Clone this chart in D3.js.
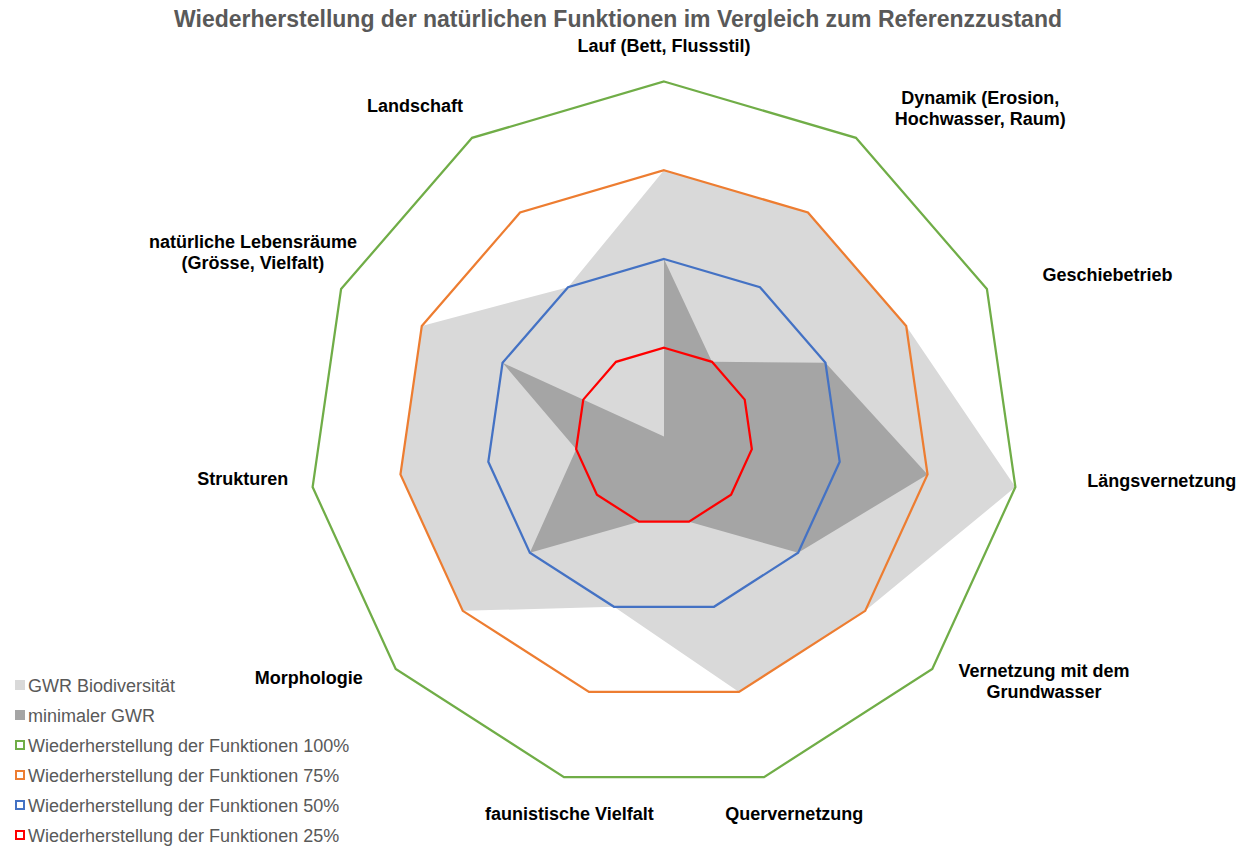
<!DOCTYPE html>
<html>
<head>
<meta charset="utf-8">
<script src="https://cdn.jsdelivr.net/npm/d3@7"></script>
<style>
  body { margin: 0; background: #fff; }
  svg { display: block; font-family: "Liberation Sans", Arial, sans-serif; }
</style>
</head>
<body>
<svg id="chart"></svg>
<script>
// axis labels (clockwise from top)
const axes = [
  'Lauf (Bett, Flussstil)',
  'Dynamik (Erosion,\nHochwasser, Raum)',
  'Geschiebetrieb',
  'Längsvernetzung',
  'Vernetzung mit dem\nGrundwasser',
  'Quervernetzung',
  'faunistische Vielfalt',
  'Morphologie',
  'Strukturen',
  'natürliche Lebensräume\n(Grösse, Vielfalt)',
  'Landschaft'
];

// series values, in % of reference state
const gwrBiodiversitaet = [75, 75, 75, 100, 75, 75, 50, 75, 75, 75, 50];
const minimalerGwr      = [50, 25, 50, 75, 50, 25, 25, 50, 25, 50, 0];
const funktionen100 = [100, 100, 100, 100, 100, 100, 100, 100, 100, 100, 100];
const funktionen75  = [75, 75, 75, 75, 75, 75, 75, 75, 75, 75, 75];
const funktionen50  = [50, 50, 50, 50, 50, 50, 50, 50, 50, 50, 50];
const funktionen25  = [25, 25, 25, 25, 25, 25, 25, 25, 25, 25, 25];

const seriesNames = [
  'GWR Biodiversität',
  'minimaler GWR',
  'Wiederherstellung der Funktionen 100%',
  'Wiederherstellung der Funktionen 75%',
  'Wiederherstellung der Funktionen 50%',
  'Wiederherstellung der Funktionen 25%'
];

const width = 1252, height = 847;
const cx = 664, cy = 436.5, R = 355;

const svg = d3.select('#chart').attr('width', width).attr('height', height);

// title
svg.append('text')
  .attr('x', 618)
  .attr('y', 27)
  .attr('text-anchor', 'middle')
  .style('font-size', '23px')
  .style('font-weight', 'bold')
  .style('fill', '#595959')
  .text('Wiederherstellung der natürlichen Funktionen im Vergleich zum Referenzzustand');

const r = d3.scaleLinear().domain([0, 100]).range([0, R]);
const angle = d3.scaleLinear().domain([0, axes.length]).range([0, 2 * Math.PI]);

const g = svg.append('g').attr('transform', `translate(${cx},${cy})`);

const radial = d3.lineRadial()
  .angle((d, i) => angle(i))
  .radius(d => r(d))
  .curve(d3.curveLinearClosed);

// filled areas
g.append('path').attr('d', radial(gwrBiodiversitaet)).attr('fill', '#d9d9d9');
g.append('path').attr('d', radial(minimalerGwr)).attr('fill', '#a5a5a5');

// rings
const rings = [
  { values: funktionen100, color: '#70ad47' },
  { values: funktionen75, color: '#ed7d31' },
  { values: funktionen50, color: '#4472c4' },
  { values: funktionen25, color: '#ff0000' }
];
rings.forEach(s => {
  g.append('path')
    .attr('d', radial(s.values))
    .attr('fill', 'none')
    .attr('stroke', s.color)
    .attr('stroke-width', 2.25)
    .attr('stroke-linejoin', 'miter');
});

// category labels: placed just outside the 100% vertex, then nudged like Excel does
const labelGap = 28, lineH = 21, fontPx = 18;
const labelNudge = [
  [0, 3], [63, 12], [36, 3], [45, -10], [26, -17], [3, 3],
  [37, 3], [-25, -14], [3, -12], [32, -15], [-16, 1]
];
axes.forEach((label, i) => {
  const a = angle(i);
  const dx = Math.sin(a), dy = -Math.cos(a);
  const lines = label.split('\n');
  const t = g.append('text')
    .attr('text-anchor', 'middle')
    .style('font-size', fontPx + 'px')
    .style('font-weight', 'bold')
    .style('fill', '#000');
  lines.forEach((ln, j) => t.append('tspan').attr('x', 0).attr('y', j * lineH).text(ln));
  const bb = t.node().getBBox();
  const w = bb.width, h = (lines.length - 1) * lineH + fontPx;
  const px = dx * (R + labelGap) + dx * w / 2 + labelNudge[i][0];
  const py = dy * (R + labelGap) + dy * h / 2 + labelNudge[i][1];
  // py is the block centre; shift so first baseline sits right
  const firstBase = py - h / 2 + fontPx * 0.72 + 0.5;
  t.attr('transform', `translate(${px},${firstBase})`);
});

// legend
const legendColors = [
  { fill: '#d9d9d9', stroke: null },
  { fill: '#a5a5a5', stroke: null },
  { fill: '#fff', stroke: '#70ad47' },
  { fill: '#fff', stroke: '#ed7d31' },
  { fill: '#fff', stroke: '#4472c4' },
  { fill: '#fff', stroke: '#ff0000' }
];
const legend = svg.append('g').attr('transform', 'translate(15,685)');
seriesNames.forEach((name, i) => {
  const item = legend.append('g').attr('transform', `translate(0,${i * 30})`);
  const c = legendColors[i];
  if (c.stroke) {
    item.append('rect')
      .attr('x', 1).attr('y', -4).attr('width', 8).attr('height', 8)
      .attr('fill', c.fill).attr('stroke', c.stroke).attr('stroke-width', 2);
  } else {
    item.append('rect')
      .attr('x', 0).attr('y', -5).attr('width', 10).attr('height', 10)
      .attr('fill', c.fill);
  }
  item.append('text')
    .attr('x', 13)
    .attr('y', 6.5)
    .style('font-size', '18px')
    .style('fill', '#595959')
    .text(name);
});
</script>
</body>
</html>
